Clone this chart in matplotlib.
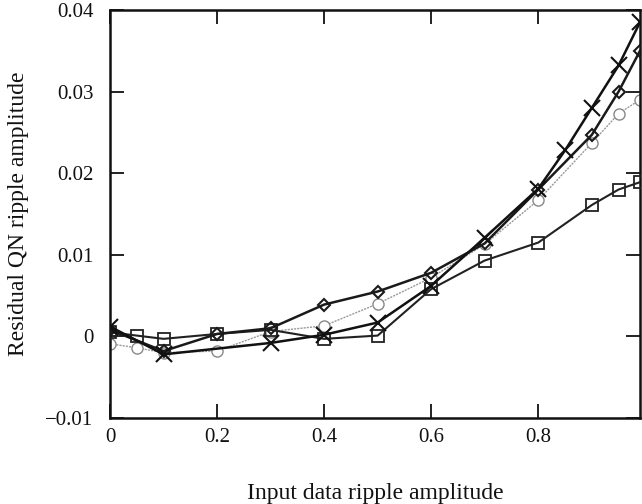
import matplotlib
matplotlib.use("Agg")
import matplotlib.pyplot as plt

# Data
x_cross = [0.0, 0.1, 0.3, 0.4, 0.5, 0.6, 0.7, 0.8, 0.85, 0.9, 0.95, 0.99]
y_cross = [0.0012, -0.0022, -0.0008, 0.0002, 0.0017, 0.0062, 0.0121, 0.0181, 0.0228, 0.0280, 0.0332, 0.0385]

x_diam = [0.0, 0.1, 0.2, 0.3, 0.4, 0.5, 0.6, 0.7, 0.8, 0.9, 0.95, 0.99]
y_diam = [0.0008, -0.0018, 0.0003, 0.0010, 0.0039, 0.0055, 0.0078, 0.0114, 0.0180, 0.0247, 0.0300, 0.0350]

x_circ = [0.0, 0.05, 0.1, 0.2, 0.3, 0.4, 0.5, 0.6, 0.7, 0.8, 0.9, 0.95, 0.99]
y_circ = [-0.0009, -0.0014, -0.0020, -0.0018, 0.0006, 0.0013, 0.0040, 0.0072, 0.0113, 0.0167, 0.0237, 0.0273, 0.0290]

x_sq = [0.0, 0.05, 0.1, 0.2, 0.3, 0.4, 0.5, 0.6, 0.7, 0.8, 0.9, 0.95, 0.99]
y_sq = [0.0005, 0.0001, -0.0003, 0.0003, 0.0008, -0.0003, 0.0001, 0.0058, 0.0093, 0.0115, 0.0161, 0.0180, 0.0189]

xticks = [0, 0.2, 0.4, 0.6, 0.8]
xticklabels = ["0", "0.2", "0.4", "0.6", "0.8"]
yticks = [-0.01, 0, 0.01, 0.02, 0.03, 0.04]
yticklabels = ["\u22120.01", "0", "0.01", "0.02", "0.03", "0.04"]

plt.rcParams['font.family'] = ['Liberation Serif', 'DejaVu Serif']

fig = plt.figure(figsize=(6.42, 5.04), dpi=100)
ax = fig.add_axes([110/642, 1-418/504, 530/642, 408/504])

ax.plot(x_circ, y_circ, color='#999999', lw=1.0, ls=(0, (1.5, 0.8)), marker='o',
        ms=8, mfc='white', mec='#888888', mew=1.0, zorder=2)
ax.plot(x_sq, y_sq, color='#222222', lw=1.5, marker='s', ms=9, mfc='none',
        mec='#222222', mew=1.3, zorder=3)
ax.plot(x_diam, y_diam, color='#1a1a1a', lw=1.8, marker='D', ms=6.5, mfc='none',
        mec='#1a1a1a', mew=1.5, zorder=4)
ax.plot(x_cross, y_cross, color='#111111', lw=1.8, marker='x', ms=11,
        mec='#111111', mew=1.5, zorder=5)

ax.set_xlim(0, 0.99)
ax.set_ylim(-0.01, 0.04)
ax.set_xticks(xticks)
ax.set_xticklabels(xticklabels)
ax.set_yticks(yticks)
ax.set_yticklabels(yticklabels)
ax.tick_params(direction='in', length=10, width=1.3, top=True, right=True,
               labelsize=15, colors='#111111')
ax.tick_params(axis='y', pad=12)
ax.tick_params(axis='x', pad=7)
for s in ax.spines.values():
    s.set_linewidth(1.8)
    s.set_color('#111111')

ax.set_xlabel("Input data ripple amplitude", fontsize=17, labelpad=26, color='#111111')
ax.set_ylabel("Residual QN ripple amplitude", fontsize=17, labelpad=12, color='#111111')

fig.savefig("out.png", dpi=100)
